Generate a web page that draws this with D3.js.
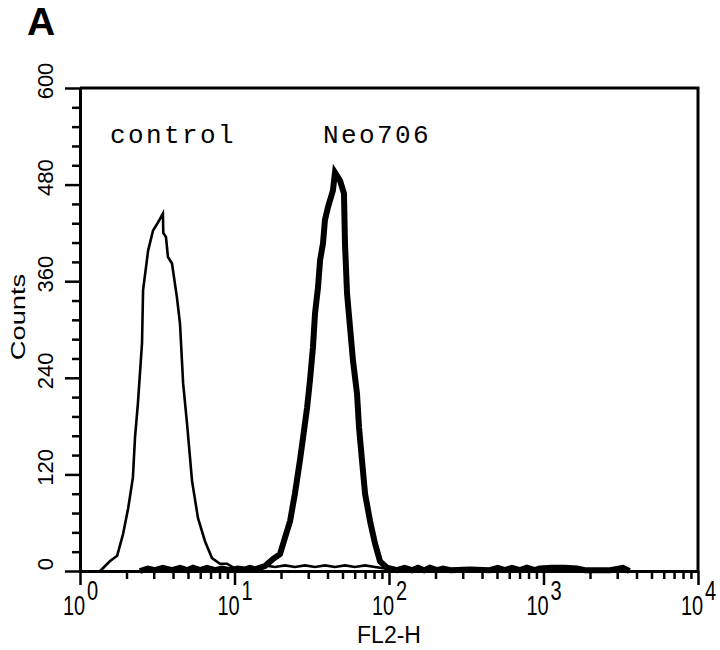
<!DOCTYPE html>
<html>
<head>
<meta charset="utf-8">
<script src="https://cdn.jsdelivr.net/npm/d3@7"></script>
<style>
  body { margin: 0; background: #fff; }
  svg { display: block; }
</style>
</head>
<body>
<svg id="chart" width="720" height="650"></svg>
<script>
// FL2-H intensity and counts
const controlX = [1.35, 1.56, 1.74, 1.90, 2.05, 2.20, 2.27, 2.37, 2.52, 2.56, 2.76, 2.97, 3.20, 3.44, 3.46, 3.60, 3.71, 3.94, 4.24, 4.44, 4.65, 4.93, 5.31, 5.80, 6.44, 7.15, 8.05, 8.94, 10.1, 11.7, 14.3, 15.7, 18.3, 21.2, 24.6, 28.6, 33.2, 38.5, 44.7, 51.9, 60.2, 70.0, 81.0, 94.3, 104];
const controlCounts = [0, 12, 19, 46, 78, 116, 166, 208, 283, 349, 398, 423, 433, 444, 420, 415, 390, 382, 340, 307, 233, 183, 112, 66, 37, 16, 9, 9, 3, 1, 4, 7, 5, 7, 5, 7, 5, 7, 5, 7, 5, 7, 5, 3, 0];

const neoX = [2.44, 2.75, 3.06, 3.44, 3.94, 4.44, 4.93, 5.39, 5.98, 6.64, 7.48, 8.30, 9.35, 10.5, 11.7, 12.6, 13.6, 15.7, 17.8, 19.7, 21.2, 22.9, 24.6, 26.5, 27.8, 29.5, 30.8, 32.2, 33.2, 34.7, 35.8, 37.4, 38.5, 40.3, 43.4, 44.7, 48.2, 51.1, 51.9, 53.5, 56.0, 58.5, 62.1, 64.0, 66.9, 70.0, 75.4, 81.2, 87.5, 97.1, 112.7, 126, 141, 154, 169, 184, 204, 224, 250, 335, 450, 505, 563, 625, 705, 780, 880, 945, 1130, 1370, 1650, 1850, 2320, 2700, 3260, 3600];
const neoCounts = [0, 3, 1, 4, 1, 4, 1, 4, 1, 4, 1, 3, 1, 3, 2, 4, 2, 6, 15, 21, 41, 62, 96, 137, 166, 203, 237, 278, 320, 352, 386, 407, 436, 452, 473, 495, 485, 469, 407, 345, 302, 261, 220, 178, 137, 96, 62, 34, 12, 4, 1, 4, 1, 4, 1, 4, 1, 3, 1, 2, 1, 4, 1, 4, 1, 4, 1, 3, 4, 4, 3, 1, 1, 1, 4, 0];

const yMajor = [0, 120, 240, 360, 480, 600];
const yMinor = d3.range(0, 601, 24).filter(v => v % 120 !== 0);
const xMajor = [1, 10, 100, 1000, 10000];
const xMinor = [];
for (let d = 1; d < 10000; d *= 10) for (let k = 2; k <= 9; k++) xMinor.push(d * k);

const svg = d3.select('#chart');
const x = d3.scaleLog().domain([1, 10000]).range([80, 698]);
const y = d3.scaleLinear().domain([0, 600]).range([571, 88]);
const sans = 'Liberation Sans, Arial, sans-serif';

// frame (top and right)
svg.append('path')
  .attr('d', `M${x(1)},${y(600)}H${x(10000)}V${y(0)}`)
  .attr('fill', 'none').attr('stroke', '#000').attr('stroke-width', 3);

// axes
const yAxis = svg.append('g').attr('transform', `translate(${x(1)},0)`);
yAxis.call(d3.axisLeft(y).tickValues(yMajor).tickSize(15).tickFormat('').tickSizeOuter(0));
yAxis.append('g').call(d3.axisLeft(y).tickValues(yMinor).tickSize(8).tickFormat('').tickSizeOuter(0));

const xAxis = svg.append('g').attr('transform', `translate(0,${y(0)})`);
xAxis.call(d3.axisBottom(x).tickValues(xMajor).tickSize(14).tickFormat('').tickSizeOuter(0));
xAxis.append('g').call(d3.axisBottom(x).tickValues(xMinor).tickSize(8).tickFormat('').tickSizeOuter(0));

svg.selectAll('.domain').attr('stroke', '#000').attr('stroke-width', 3);
svg.selectAll('.tick line').attr('stroke', '#000').attr('stroke-width', 2.5);

// y tick labels, rotated
svg.append('g').selectAll('text').data(yMajor).join('text')
  .attr('transform', d => `translate(53,${y(d) - 7}) rotate(-90)`)
  .attr('text-anchor', 'middle')
  .attr('font-family', sans)
  .attr('font-size', 22)
  .text(d => d);

// x tick labels 10^n
const xl = svg.append('g').selectAll('g').data(xMajor).join('g')
  .attr('transform', d => `translate(${x(d) - 17},615) scale(1,1.35)`);
xl.append('text')
  .attr('font-family', sans)
  .attr('font-size', 20)
  .text('10');
xl.append('text')
  .attr('x', 24)
  .attr('y', -11)
  .attr('font-family', sans)
  .attr('font-size', 20)
  .text(d => Math.round(Math.log10(d)));

// axis titles
svg.append('text')
  .attr('transform', `translate(389,643) scale(1,1.05)`)
  .attr('text-anchor', 'middle')
  .attr('font-family', sans)
  .attr('font-size', 23)
  .text('FL2-H');

svg.append('text')
  .attr('transform', `translate(25,317) rotate(-90) scale(1.3,1)`)
  .attr('text-anchor', 'middle')
  .attr('font-family', sans)
  .attr('font-size', 21)
  .text('Counts');

svg.append('text')
  .attr('x', 27)
  .attr('y', 35)
  .attr('font-family', sans)
  .attr('font-weight', 'bold')
  .attr('font-size', 39)
  .text('A');

// series labels
const labels = [{t: 'control', x: 110}, {t: 'Neo706', x: 323}];
svg.append('g').selectAll('text').data(labels).join('text')
  .attr('x', d => d.x)
  .attr('y', 143)
  .attr('font-family', 'Courier New, Liberation Mono, monospace')
  .attr('font-size', 26)
  .attr('letter-spacing', 2.4)
  .text(d => d.t);

// histograms
const line = d3.line().x(d => x(d[0])).y(d => y(d[1]));
svg.append('path')
  .datum(d3.zip(neoX, neoCounts))
  .attr('d', line)
  .attr('fill', 'none').attr('stroke', '#000').attr('stroke-width', 6)
  .attr('stroke-linejoin', 'miter');
svg.append('path')
  .datum(d3.zip(controlX, controlCounts))
  .attr('d', line)
  .attr('fill', 'none').attr('stroke', '#000').attr('stroke-width', 2.6);
</script>
</body>
</html>
